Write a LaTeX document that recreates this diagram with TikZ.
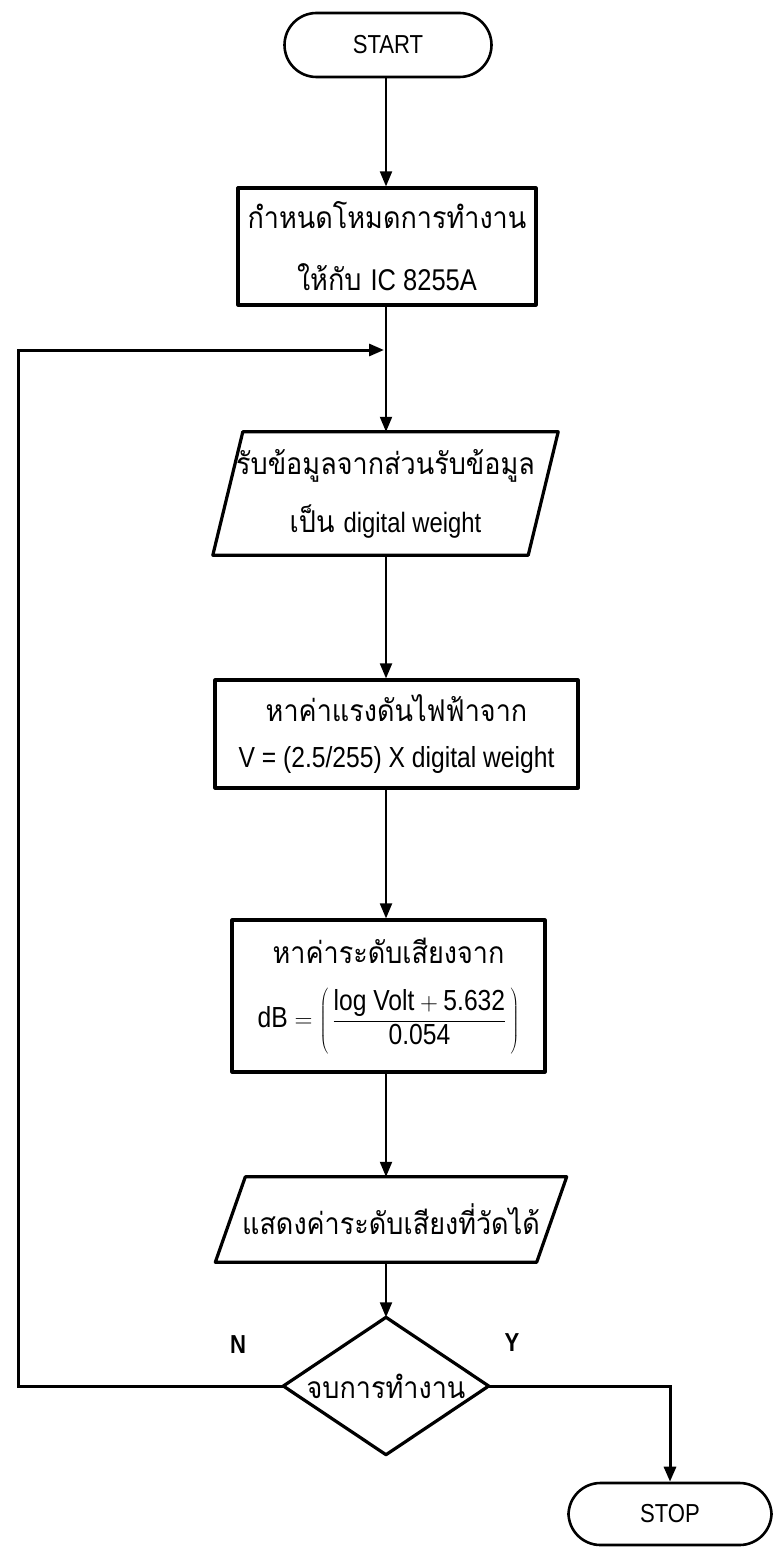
\documentclass[tikz,border=0pt]{standalone}
\usepackage{fontspec}
\setmainfont{Liberation Sans}[FakeStretch=0.85]
\newfontfamily\thai{Loma}[Script=Thai, FakeStretch=0.9]
\usetikzlibrary{arrows.meta,calc}
\begin{document}
\begin{tikzpicture}[x=1pt,y=-1pt,
  boxline/.style={line width=3.2pt, line join=round},
  box/.style={draw, boxline, rectangle, inner sep=0pt, align=center},
  term/.style={draw, line width=2.6pt, rectangle, rounded corners=32pt, inner sep=0pt},
  holder/.style={rectangle, inner sep=0pt, align=center},
  conn/.style={line width=2pt},
  arr/.style={conn, -{Triangle[length=15pt,width=12pt]}},
  txt/.style={font=\fontsize{28}{34}\selectfont},
  thtxt/.style={font=\thai\fontsize{30}{36}\selectfont},
  lbl/.style={font=\bfseries\fontsize{26}{30}\selectfont}]
\useasboundingbox (0,0) rectangle (773,1549);

% column reference
\coordinate (col) at (386,0);

% START
\node[term, minimum width=207pt, minimum height=64pt, font=\fontsize{26}{30}\selectfont] (start) at (388,45) {START};

% box 1
\node[box, minimum width=298pt, minimum height=117pt, thtxt] (b1) at (387,246.5)
  {กำหนดโหมดการทำงาน\\[26pt]ให้กับ {\fontspec{Liberation Sans}[FakeStretch=0.85]\fontsize{30}{34}\selectfont IC 8255A}};

% parallelogram 1
\node[holder, minimum width=315pt, minimum height=123pt, thtxt] (p1) at (385.5,493.5)
  {รับข้อมูลจากส่วนรับข้อมูล\\[22pt]เป็น {\fontspec{Liberation Sans}[FakeStretch=0.85]\fontsize{28}{30}\selectfont digital weight}};
\draw[boxline] ($(p1.north west)+(15,0)$) -- ($(p1.north east)+(15,0)$)
  -- ($(p1.south east)+(-15,0)$) -- ($(p1.south west)+(-15,0)$) -- cycle;

% box 2
\node[box, minimum width=363pt, minimum height=108pt, txt] (b2) at (396.5,734)
  {{\thai\fontsize{30}{36}\selectfont หาค่าแรงดันไฟฟ้าจาก}\\[12pt]{\fontsize{29}{34}\selectfont V = (2.5/255) X digital weight}};

% box 3
\node[box, minimum width=313pt, minimum height=152pt, txt] (b3) at (388.5,996)
  {{\thai\fontsize{30}{36}\selectfont หาค่าระดับเสียงจาก}\\[24pt]
   {\fontsize{29}{34}\selectfont dB $=\left(\,\displaystyle\frac{\rule[-6pt]{0pt}{28pt}\mbox{log Volt}+\mbox{5.632}}{\rule[-9pt]{0pt}{27pt}\mbox{0.054}}\,\right)$}};

% parallelogram 2
\node[holder, minimum width=321pt, minimum height=85pt, thtxt] (p2) at (391,1219.5)
  {แสดงค่าระดับเสียงที่วัดได้};
\draw[boxline] ($(p2.north west)+(15,0)$) -- ($(p2.north east)+(15,0)$)
  -- ($(p2.south east)+(-15,0)$) -- ($(p2.south west)+(-15,0)$) -- cycle;

% decision
\node[holder, minimum width=205pt, minimum height=137pt, thtxt] (dec) at (386,1386) {จบการทำงาน};
\draw[boxline] (dec.north) -- (dec.east) -- (dec.south) -- (dec.west) -- cycle;

% STOP
\node[term, minimum width=203pt, minimum height=62pt, font=\fontsize{26}{30}\selectfont] (stop) at (670,1514) {STOP};

% labels
\node[lbl] (nlab) at (238,1345) {N};
\node[lbl] (ylab) at (512,1343) {Y};

% connectors
\draw[arr] (start.south -| col) -- (b1.north -| col);
\draw[arr] (b1.south -| col) -- (p1.north -| col);
\draw[arr] (p1.south -| col) -- (b2.north -| col);
\draw[arr] (b2.south -| col) -- (b3.north -| col);
\draw[arr] (b3.south -| col) -- (p2.north -| col);
\draw[arr] (p2.south -| col) -- (dec.north);

\coordinate (loopleft) at (18,1386);
\coordinate (looptop) at (18,350);
\coordinate (loopend) at (384,350);
\draw[arr, line width=3pt] (dec.west) -- (loopleft) -- (looptop) -- (loopend);

\coordinate (ycorner) at (stop.north |- dec.east);
\draw[arr, line width=3pt] (dec.east) -- (ycorner) -- (stop.north);
\end{tikzpicture}
\end{document}
